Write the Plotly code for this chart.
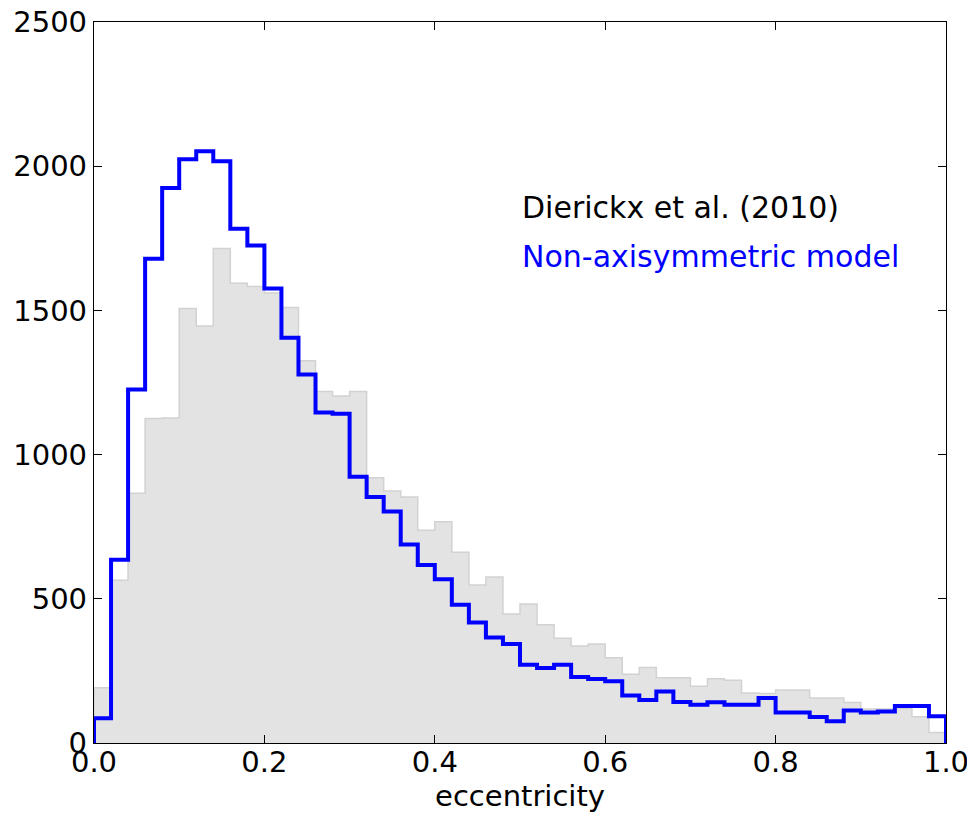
import numpy as np
import plotly.graph_objects as go

# Histogram data (counts per bin of width 0.02 in eccentricity, 0..1)
bin_start = 0.0
bin_width = 0.02
n_bins = 50

model_counts = [86, 635, 1226, 1679, 1924, 2024, 2052, 2017, 1783, 1725,
                1576, 1405, 1278, 1146, 1142, 923, 853, 803, 688, 617,
                568, 479, 418, 366, 343, 271, 260, 271, 229, 222,
                214, 165, 149, 179, 142, 133, 141, 133, 133, 156,
                106, 106, 90, 75, 113, 106, 109, 128, 128, 93]

dierickx_counts = [192, 564, 866, 1125, 1127, 1507, 1446, 1715, 1594, 1583,
                   1560, 1510, 1325, 1219, 1203, 1219, 920, 874, 853, 738,
                   767, 661, 548, 576, 447, 482, 410, 363, 336, 343,
                   296, 238, 262, 226, 226, 197, 223, 218, 173, 172,
                   184, 184, 156, 156, 140, 118, 118, 120, 91, 36]

x_ticks = [0.0, 0.2, 0.4, 0.6, 0.8, 1.0]
x_tick_text = ["0.0", "0.2", "0.4", "0.6", "0.8", "1.0"]
y_ticks = [0, 500, 1000, 1500, 2000, 2500]
y_tick_text = ["0", "500", "1000", "1500", "2000", "2500"]

label_obs = "Dierickx et al. (2010)"
label_model = "Non-axisymmetric model"
x_title = "eccentricity"

edges = bin_start + bin_width * np.arange(n_bins + 1)


def step_xy(counts):
    xs = [edges[0]] + list(edges[:-1]) + [edges[-1], edges[-1]]
    ys = [0] + list(counts) + [counts[-1], 0]
    return xs, ys


FONT = "DejaVu Sans"
fig = go.Figure()

gx, gy = step_xy(dierickx_counts)
fig.add_trace(go.Scatter(
    x=gx, y=gy, mode="lines", line_shape="hv",
    line=dict(color="#d2d2d2", width=1.5),
    fill="tozeroy", fillcolor="#e3e3e3",
    hoverinfo="skip", showlegend=False,
))

bx, by = step_xy(model_counts)
fig.add_trace(go.Scatter(
    x=bx, y=by, mode="lines", line_shape="hv",
    line=dict(color="#0000ff", width=4),
    hoverinfo="skip", showlegend=False,
))

fig.add_annotation(x=0.5, y=1858, text=label_obs, showarrow=False,
                   xanchor="left", yanchor="middle",
                   font=dict(family=FONT, size=30, color="black"))
fig.add_annotation(x=0.5, y=1688, text=label_model, showarrow=False,
                   xanchor="left", yanchor="middle",
                   font=dict(family=FONT, size=30, color="#0000ff"))

# page body has an 8px margin, so the figure is sized to fit the window
fig.update_layout(
    width=967, height=813,
    margin=dict(l=86, r=29, t=14, b=78),
    plot_bgcolor="white", paper_bgcolor="white",
    font=dict(family=FONT, size=29, color="black"),
)
fig.update_xaxes(
    range=[0, 1], tickvals=x_ticks, ticktext=x_tick_text,
    showgrid=False, zeroline=False, automargin=False,
    showline=True, linecolor="black", linewidth=1.3, mirror="ticks",
    ticks="inside", ticklen=8, tickcolor="black", tickwidth=1,
    tickfont=dict(family=FONT, size=29),
    ticklabeloverflow="allow", ticklabelstandoff=-7,
    title=dict(text=x_title, font=dict(family=FONT, size=29), standoff=0),
)
fig.update_yaxes(
    range=[0, 2500], tickvals=y_ticks, ticktext=y_tick_text,
    showgrid=False, zeroline=False, automargin=False,
    showline=True, linecolor="black", linewidth=1.3, mirror="ticks",
    ticks="inside", ticklen=8, tickcolor="black", tickwidth=1,
    tickfont=dict(family=FONT, size=29),
    ticklabeloverflow="allow",
)

fig.write_html("out.html")
